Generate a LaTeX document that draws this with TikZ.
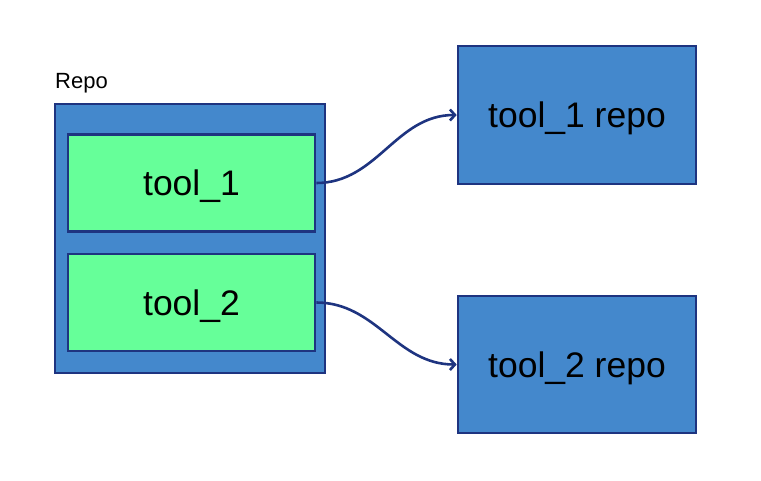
\documentclass[tikz,border=0pt]{standalone}
\usepackage{fontspec}
\setmainfont{Liberation Sans}
\usepackage{xcolor}
\usetikzlibrary{positioning}
\usetikzlibrary{arrows.meta}
\definecolor{boxblue}{RGB}{68,136,204}
\definecolor{toolgreen}{RGB}{102,255,153}
\definecolor{edgenavy}{RGB}{30,52,128}
\tikzset{>={Straight Barb[length=5pt,width=11pt]}}
\tikzset{
    repobox/.style = {draw=edgenavy, line width=2.6pt, fill=boxblue, inner sep=0pt},
    toolbox/.style = {draw=edgenavy, line width=2.6pt, fill=toolgreen, inner sep=0pt,
        minimum width=247pt, minimum height=97pt, text depth=0pt, font=\fontsize{35.5}{40}\selectfont},
    link/.style = {->, draw=edgenavy, line width=2.6pt}
}

\begin{document}
\begin{tikzpicture}[x=1pt, y=-1pt]
                \useasboundingbox (0,0) rectangle (761,480);
                \node[repobox, minimum width=270pt, minimum height=269pt] (repo) at (190,238.5) {};
                \node[anchor=base west, inner sep=0pt, font=\fontsize{22}{26}\selectfont] (repolabel) at (55,88) {Repo};
                \node[toolbox] (tool1) at (191.5,183) {tool\_1};
                \node[toolbox] (tool2) at (191.5,302.5) {tool\_2};
                \node[repobox, minimum width=238pt, minimum height=138pt, text depth=0pt, font=\fontsize{35.5}{40}\selectfont] (repo1) at (577,115) {tool\_1 repo};
                \node[repobox, minimum width=238pt, minimum height=137pt, text depth=0pt, font=\fontsize{35.5}{40}\selectfont] (repo2) at (577,364.5) {tool\_2 repo};
                \draw[link] (tool1.east) to[out=0, in=180] (repo1.west);
                \draw[link] (tool2.east) to[out=0, in=180] (repo2.west);
            \end{tikzpicture}
\end{document}
